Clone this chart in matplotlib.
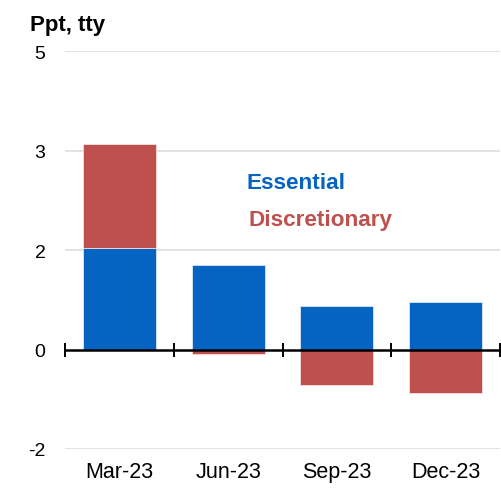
import numpy as np
import matplotlib
matplotlib.use("Agg")
import matplotlib.pyplot as plt

# ====================================================
# DATA
# ====================================================

quarters = ["Mar-23", "Jun-23", "Sep-23", "Dec-23"]

essential = [1.71, 1.41, 0.73, 0.80]

discretionary = [1.74, -0.08, -0.59, -0.73]

y_min = -5 / 3
y_max = 5

BLUE = "#0563C1"
RED = "#C0504D"

plt.rcParams["font.family"] = ["Liberation Sans", "DejaVu Sans"]

# ====================================================
# FIGURE
# ====================================================

fig = plt.figure(
    figsize=(5.02, 4.89),
    dpi=100
)

ax = fig.add_axes([0.1295, 0.0798, 0.8665, 0.8132])

x = np.arange(len(quarters))
ess = np.array(essential)
disc = np.array(discretionary)

# discretionary stacks on essential when positive, hangs below zero otherwise
disc_base = np.where(disc >= 0, ess, 0)

ax.bar(
    x,
    ess,
    width=0.67,
    color=BLUE,
    edgecolor="#DDE8F5",
    linewidth=0.6,
    zorder=2
)

ax.bar(
    x,
    disc,
    bottom=disc_base,
    width=0.67,
    color=RED,
    edgecolor="#F3DEDE",
    linewidth=0.6,
    zorder=2
)

# ====================================================
# AXES
# ====================================================

ax.set_xlim(-0.5, len(quarters) - 0.5)
ax.set_ylim(y_min, y_max)

yticks = np.linspace(y_min, y_max, 5)
ax.set_yticks(yticks)
ax.set_yticklabels([f"{v:.0f}" for v in yticks])

for v in yticks:
    if abs(v) > 1e-9:
        ax.axhline(v, color="#DEDEDE", linewidth=1.2, zorder=1)

for side in ["left", "right", "top"]:
    ax.spines[side].set_visible(False)

ax.spines["bottom"].set_position(("data", 0))
ax.spines["bottom"].set_linewidth(1.8)
ax.spines["bottom"].set_zorder(3)

ax.set_xticks(np.arange(-0.5, len(quarters), 1.0))
ax.tick_params(
    axis="x",
    direction="inout",
    length=10,
    width=1.4,
    labelbottom=False
)

ax.tick_params(
    axis="y",
    length=0,
    pad=14,
    labelsize=14
)

for i, q in enumerate(quarters):
    ax.annotate(
        q,
        xy=(i, 0),
        xycoords=("data", "axes fraction"),
        xytext=(0, -16.5),
        textcoords="offset points",
        ha="center",
        va="center",
        fontsize=15.5
    )

# ====================================================
# TEXT
# ====================================================

fig.text(
    30 / 502,
    1 - 30.7 / 489,
    "Ppt, tty",
    fontsize=16,
    fontweight="bold",
    va="baseline"
)

fig.text(
    247 / 502,
    1 - 189 / 489,
    "Essential",
    color=BLUE,
    fontsize=16.2,
    fontweight="bold",
    va="baseline"
)

fig.text(
    249 / 502,
    1 - 226.5 / 489,
    "Discretionary",
    color=RED,
    fontsize=16.2,
    fontweight="bold",
    va="baseline"
)

fig.savefig("out.png", dpi=100)
